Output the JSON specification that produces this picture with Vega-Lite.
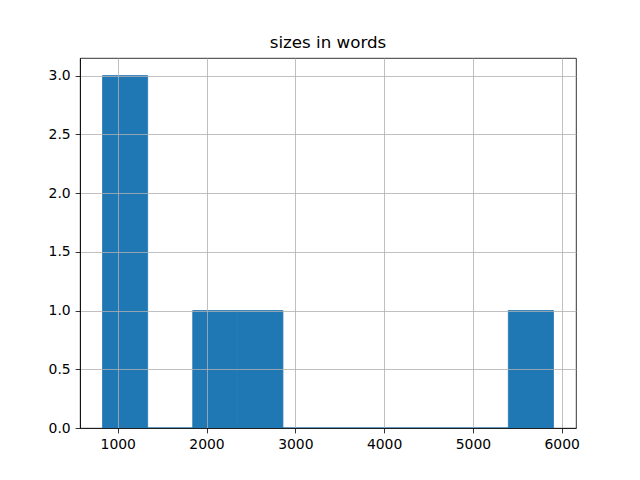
{
  "$schema": "https://vega.github.io/schema/vega-lite/v6.json",
  "width": 496,
  "height": 370,
  "autosize": "none",
  "padding": {"left": 80, "top": 58, "right": 64, "bottom": 52},
  "background": "white",
  "title": {
    "text": "sizes in words",
    "font": "DejaVu Sans",
    "fontSize": 16.7,
    "fontWeight": "normal",
    "color": "black",
    "anchor": "middle",
    "offset": 6
  },
  "data": {
    "values": [
      {"start": 829, "end": 1336.8, "count": 3},
      {"start": 1336.8, "end": 1844.6, "count": 0},
      {"start": 1844.6, "end": 2352.4, "count": 1},
      {"start": 2352.4, "end": 2860.2, "count": 1},
      {"start": 2860.2, "end": 3368, "count": 0},
      {"start": 3368, "end": 3875.8, "count": 0},
      {"start": 3875.8, "end": 4383.6, "count": 0},
      {"start": 4383.6, "end": 4891.4, "count": 0},
      {"start": 4891.4, "end": 5399.2, "count": 0},
      {"start": 5399.2, "end": 5907, "count": 1}
    ]
  },
  "mark": {"type": "bar", "color": "#1f77b4", "stroke": "#1f77b4", "strokeWidth": 0.8, "cornerRadius": 0},
  "encoding": {
    "x": {
      "field": "start",
      "type": "quantitative",
      "scale": {"domain": [575, 6161], "nice": false, "zero": false},
      "axis": {"title": null, "values": [1000, 2000, 3000, 4000, 5000, 6000], "format": "d", "zindex": 1}
    },
    "x2": {"field": "end"},
    "y": {
      "field": "count",
      "type": "quantitative",
      "scale": {"domain": [0, 3.15], "nice": false, "padding": 0},
      "axis": {"title": null, "values": [0, 0.5, 1, 1.5, 2, 2.5, 3], "format": ".1f", "zindex": 1}
    },
    "y2": {"datum": 0}
  },
  "config": {
    "view": {"stroke": "black", "strokeWidth": 0.8},
    "axis": {
      "zindex": 1,
      "grid": true,
      "gridColor": "#b0b0b0",
      "gridWidth": 0.8,
      "gridOpacity": 1,
      "domainColor": "black",
      "domainWidth": 0.8,
      "tickColor": "black",
      "tickWidth": 0.8,
      "tickSize": 4.9,
      "labelFont": "DejaVu Sans",
      "labelFontSize": 13.9,
      "labelColor": "black",
      "labelPadding": 4.9,
      "labelFlush": false,
      "labelOverlap": false
    }
  }
}
